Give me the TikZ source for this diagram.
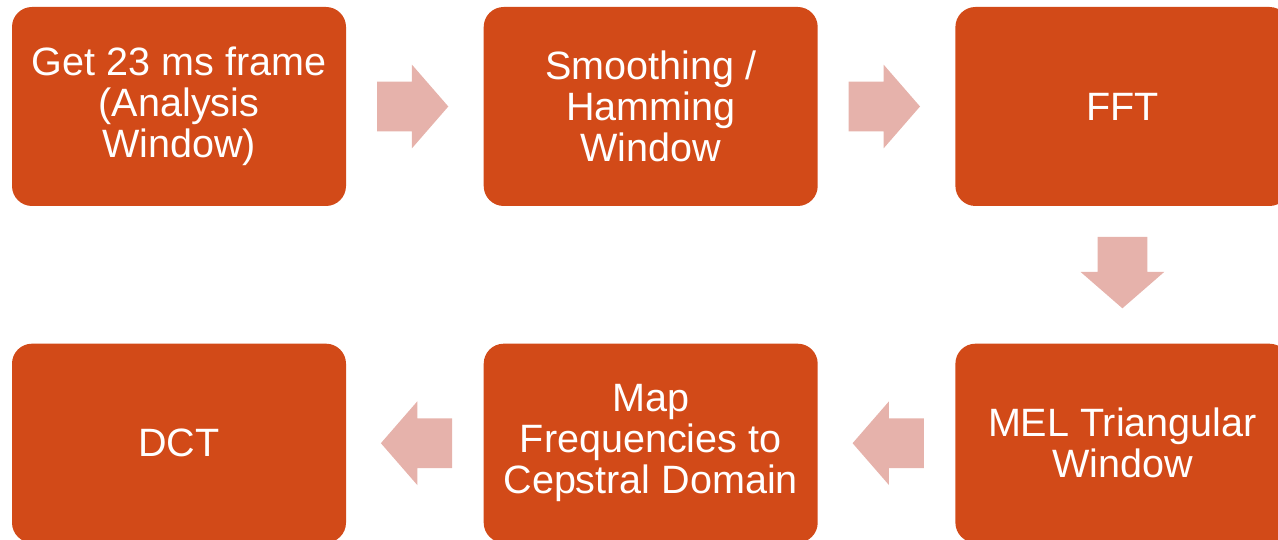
\documentclass[tikz,border=0pt]{standalone}
\usepackage{fontspec}
\setmainfont{Liberation Sans}
\usepackage{tikz}
\usetikzlibrary{positioning}
\usetikzlibrary{calc}
\usetikzlibrary{shapes.arrows}
\definecolor{boxorange}{HTML}{D24A18}
\definecolor{arrowpink}{HTML}{E6B2AB}
\tikzset{
    stagebox/.style={draw=none, fill=boxorange, text=white, rounded corners=0.4cm,
        minimum width=6.68cm, minimum height=3.98cm, align=center,
        font=\fontsize{22.5}{23.4}\selectfont},
    fatarrow/.style={single arrow, draw=none, fill=arrowpink, inner sep=0pt,
        text width=0.98cm, text height=0.98cm, text depth=0pt,
        minimum height=1.42cm, minimum width=1.66cm,
        single arrow head extend=0.34cm, single arrow tip angle=98},
    arrowright/.style={fatarrow, xshift=-0.26cm},
    arrowdown/.style={fatarrow, shape border rotate=270, yshift=0.26cm},
    arrowleft/.style={fatarrow, shape border rotate=180, xshift=0.25cm},
}

\begin{document}
\begin{tikzpicture}[node distance=2.74cm]
	\useasboundingbox (0,0) rectangle (25.56,10.8);
	\node[stagebox] (frame) at (3.58,8.67) {Get 23 ms frame\\(Analysis\\Window)};
	\node[stagebox, right=of frame] (hamming) {Smoothing /\\Hamming\\Window};
	\node[stagebox, right=of hamming] (fft) {FFT};
	\node[stagebox, below=of fft] (mel) {MEL Triangular\\Window};
	\node[stagebox, left=of mel] (cepstral) {Map\\Frequencies to\\Cepstral Domain};
	\node[stagebox, left=of cepstral] (dct) {DCT};
	% block arrows between the stages
	\node[arrowright] (arr1) at ($(frame)!0.5!(hamming)$) {};
	\node[arrowright] (arr2) at ($(hamming)!0.5!(fft)$) {};
	\node[arrowdown] (arr3) at ($(fft)!0.5!(mel)$) {};
	\node[arrowleft] (arr4) at ($(mel)!0.5!(cepstral)$) {};
	\node[arrowleft] (arr5) at ($(cepstral)!0.5!(dct)$) {};
\end{tikzpicture}
\end{document}
